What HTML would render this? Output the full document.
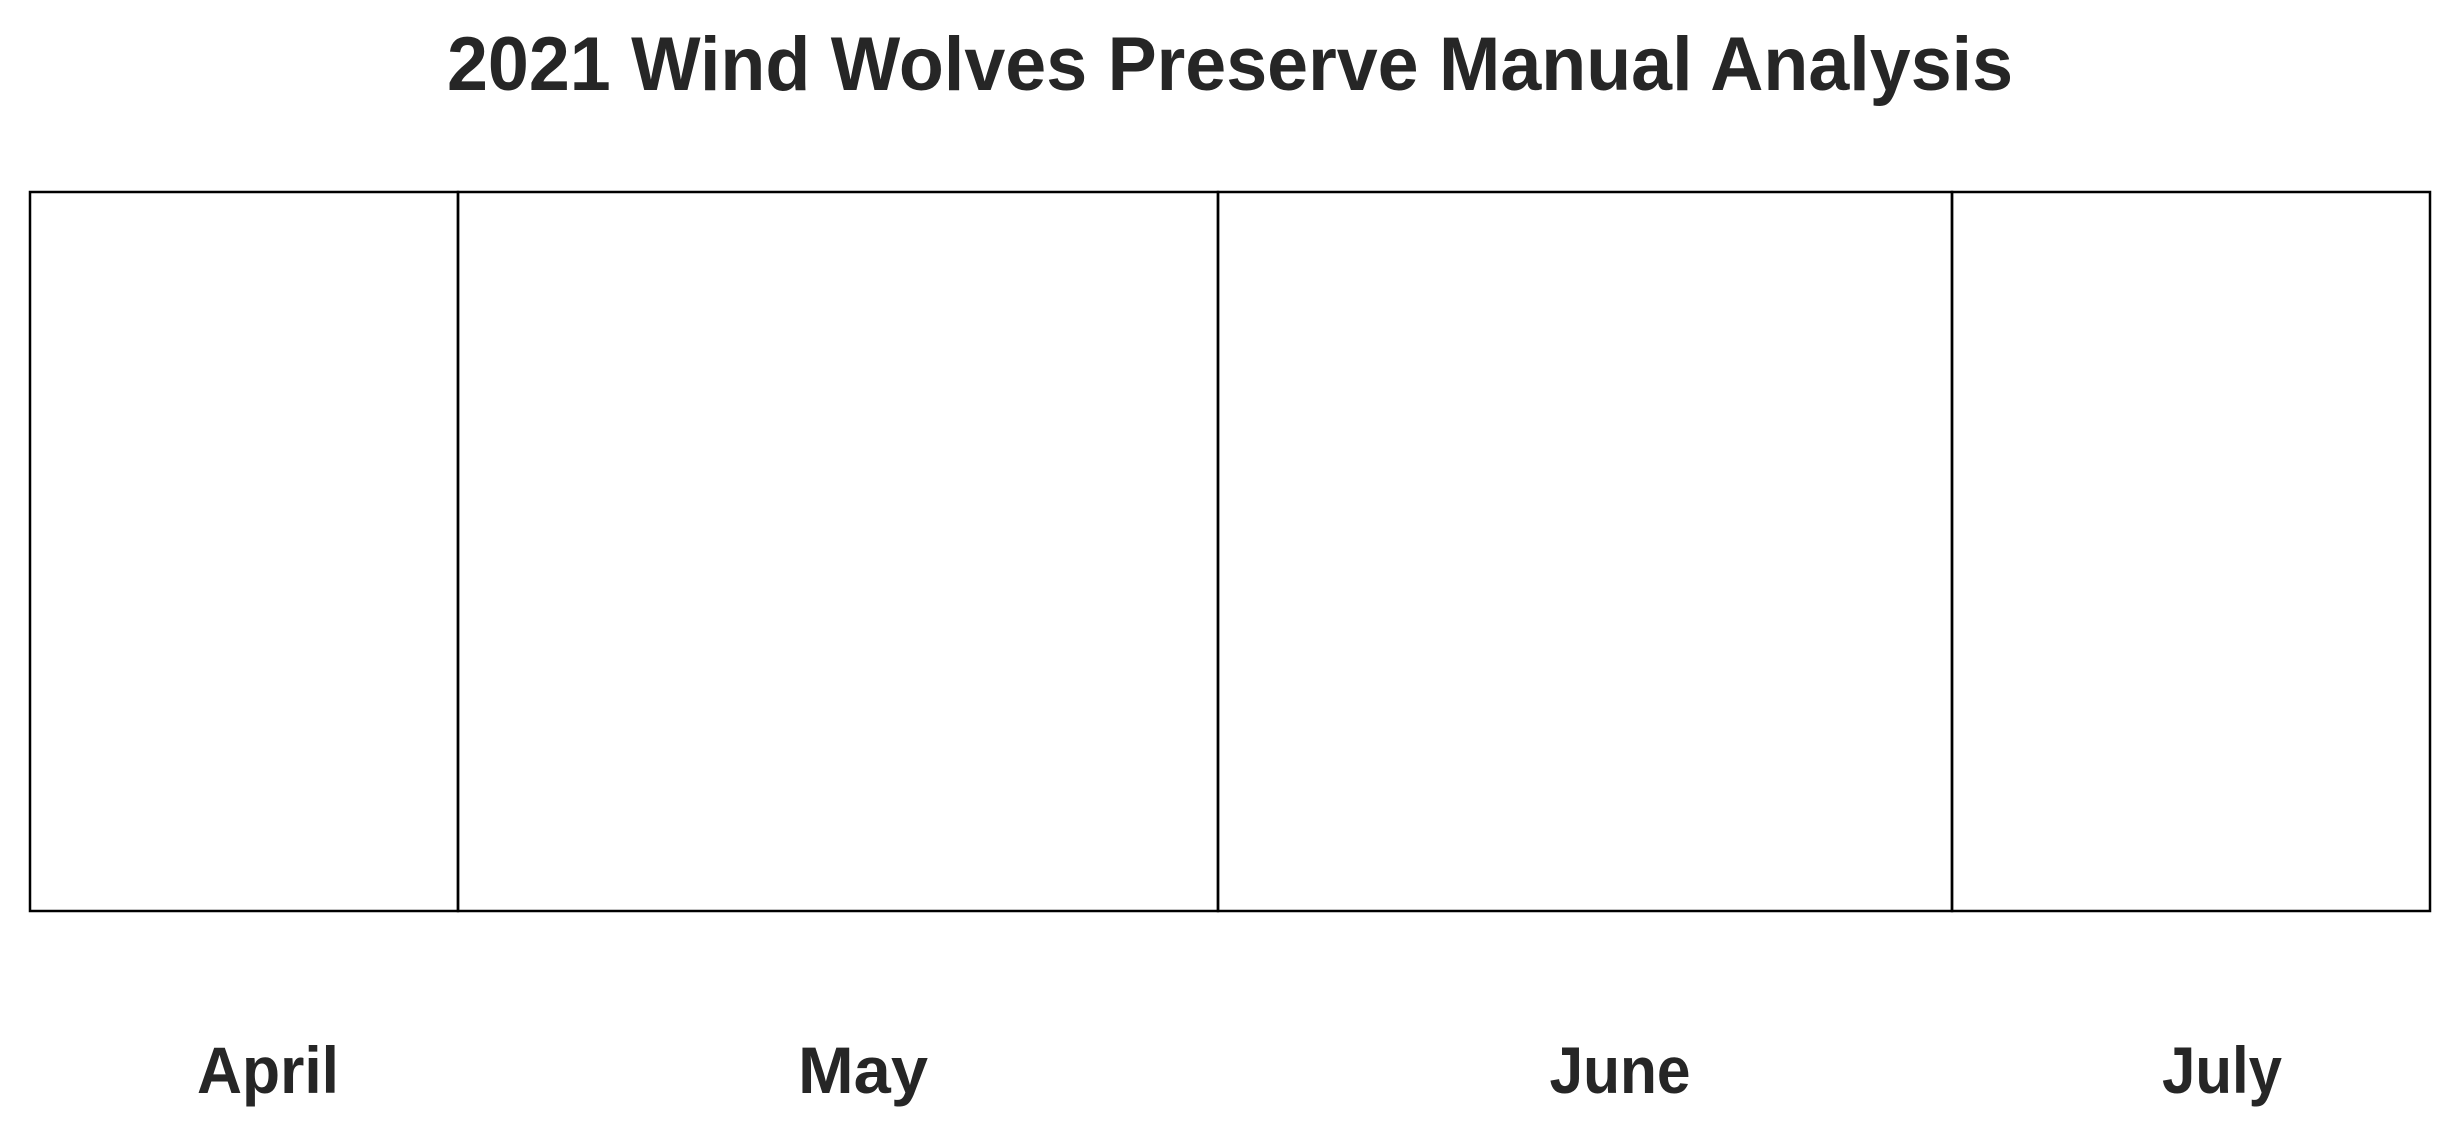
<!DOCTYPE html>
<html><head><meta charset="utf-8"><style>
html,body{margin:0;padding:0;background:#fff;}
svg{display:block;}
text{font-family:"Liberation Sans",sans-serif;font-weight:bold;fill:#262626;}
</style></head><body>
<svg id="chart" width="2460" height="1138" viewBox="0 0 2460 1138" xmlns="http://www.w3.org/2000/svg">
<text x="1230" y="90" font-size="76" text-anchor="middle" textLength="1566" lengthAdjust="spacingAndGlyphs">2021 Wind Wolves Preserve Manual Analysis</text>
<g id="plot"></g>
</svg>
<script>
const categories = ["April", "May", "June", "July"];
const sectionSizes = [428, 760, 734, 478];
const labelOffsets = [24, 25, 35, 31];
const labelWidths = [142, 130, 141, 120];

const X0 = 30, X1 = 2430, Y0 = 192, Y1 = 911;
const total = sectionSizes.reduce((a, b) => a + b, 0);
function xScale(v) { return X0 + (X1 - X0) * v / total; }
const NS = "http://www.w3.org/2000/svg";
const plot = document.getElementById("plot");
let cum = 0;
categories.forEach((c, i) => {
  const xa = xScale(cum), xb = xScale(cum + sectionSizes[i]);
  cum += sectionSizes[i];
  const r = document.createElementNS(NS, "rect");
  
  
  r.setAttribute("x", xa); r.setAttribute("y", Y0);
  r.setAttribute("width", xb - xa); r.setAttribute("height", Y1 - Y0);
  r.setAttribute("fill", "none"); r.setAttribute("stroke", "#000"); r.setAttribute("stroke-width", "2.5");
  plot.appendChild(r);
  const t = document.createElementNS(NS, "text");
  
  
  t.setAttribute("x", (xa + xb) / 2 + labelOffsets[i]);
  t.setAttribute("y", 1093);
  t.setAttribute("font-size", "66");
  t.setAttribute("text-anchor", "middle");
  t.setAttribute("textLength", labelWidths[i]);
  t.setAttribute("lengthAdjust", "spacingAndGlyphs");
  t.textContent = c;
  plot.appendChild(t);
});
</script>
</body></html>
